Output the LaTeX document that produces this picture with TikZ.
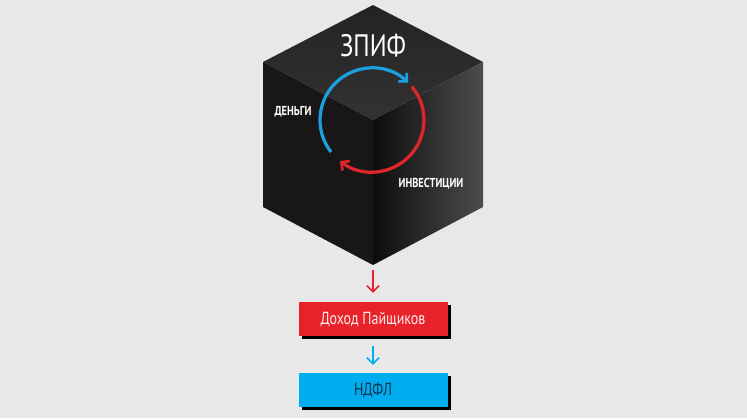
\documentclass[tikz,border=0pt]{standalone}
\usepackage{fontspec}
\setmainfont{PT Sans}
\newfontfamily\condfont[FakeStretch=0.8]{PT Sans}
\usetikzlibrary{arrows.meta}
\definecolor{bg}{HTML}{E8E8E8}
\definecolor{zred}{HTML}{E8222A}
\definecolor{zblue}{HTML}{00AEEF}
\definecolor{arcblue}{HTML}{1BA1E2}
\definecolor{arcred}{HTML}{E0262A}
\definecolor{navy}{HTML}{12304E}
\definecolor{topface}{HTML}{2B2929}
\definecolor{leftface}{HTML}{181616}
\begin{document}
\begin{tikzpicture}[x=1pt,y=-1pt,
  boxstyle/.style={minimum width=149pt,minimum height=34pt,inner sep=0pt,font=\condfont\fontsize{17.5}{20}\selectfont},
  shadowbox/.style={fill=black,minimum width=149pt,minimum height=34pt,inner sep=0pt},
  flowarrow/.style={line width=1.6pt,-{Straight Barb[length=6pt,width=12pt,line width=1.6pt]}},
  cyclearrow/.style={line width=3.2pt,-{Straight Barb[length=6pt,width=12pt,line width=2.6pt]}},
  cubelabel/.style={text=white,inner sep=0pt,font=\condfont\bfseries\fontsize{13}{15}\selectfont}]
\fill[bg] (0,0) rectangle (747,418);
\useasboundingbox (0,0) rectangle (747,418);
% cube faces
\coordinate (T) at (373,5);
\coordinate (L) at (263,62);
\coordinate (R) at (483,62);
\coordinate (C) at (373,120);
\coordinate (LB) at (263,207);
\coordinate (RB) at (483,207);
\coordinate (B) at (373,265);
\shade[top color=topface!85!black,bottom color=topface!90!gray] (T) -- (R) -- (C) -- (L) -- cycle;
\fill[leftface] (L) -- (C) -- (B) -- (LB) -- cycle;
\shade[left color=black!95,right color=black!70] (C) -- (R) -- (RB) -- (B) -- cycle;
% title
\node[text=white,font=\condfont\fontsize{31}{34}\selectfont,inner sep=0pt] (title) at (373,46) {ЗПИФ};
% cycle arcs
\coordinate (O) at (372,120);
\draw[arcblue,cyclearrow] ([shift={(-218:52)}]O) arc[start angle=-218,end angle=-46,radius=52];
\draw[arcred,cyclearrow] ([shift={(-40:52)}]O) arc[start angle=-40,end angle=128,radius=52];
\node[cubelabel] (money) at (293,112) {ДЕНЬГИ};
\node[cubelabel] (inv) at (431,184) {ИНВЕСТИЦИИ};
% boxes
\node[shadowbox] (s1) at (376,322) {};
\node[boxstyle,fill=zred,text=white!92!red] (income) at (373,319) {Доход Пайщиков};
\node[shadowbox] (s2) at (376,393) {};
\node[boxstyle,fill=zblue,text=navy] (tax) at (373,390) {НДФЛ};
\coordinate (cb) at (373,270);
\draw[zred,flowarrow] (cb) -- ([yshift=9pt]income.north);
\draw[zblue,flowarrow] ([yshift=-7pt]s1.south -| income.south) -- ([yshift=8pt]tax.north);
\end{tikzpicture}
\end{document}
